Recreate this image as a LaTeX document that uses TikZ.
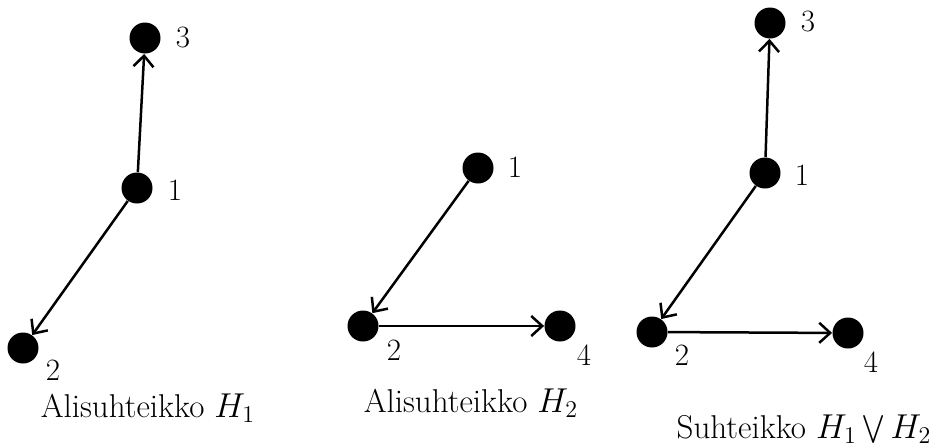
\documentclass[tikz,border=0pt]{standalone}
\usetikzlibrary{arrows.meta}
\begin{document}
\begin{tikzpicture}[x=0.5pt,y=-0.5pt,
  vtx/.style={circle,fill=black,inner sep=0pt,minimum size=15.5pt},
  lbl/.style={font=\fontsize{15.5}{18}\selectfont},
  captext/.style={font=\fontsize{16.5}{20}\selectfont,anchor=base},
  edge/.style={line width=1.25pt,-{Straight Barb[length=5.5pt,width=10pt,line width=1.25pt]}}]
\useasboundingbox (0,0) rectangle (937,445);
% first subgraph H1
\node[vtx] (a3) at (145,38) {};
\node[vtx] (a1) at (137,188) {};
\node[vtx] (a2) at (23,348) {};
\node[lbl] (la3) at (183,38) {3};
\node[lbl] (la1) at (175,190) {1};
\node[lbl] (la2) at (53,370) {2};
\node[captext] (ca) at (148,417) {Alisuhteikko $H_1$};
\draw[edge] (a1) -- (a3);
\draw[edge] (a1) -- (a2);
% second subgraph H2
\node[vtx] (b1) at (478,168) {};
\node[vtx] (b2) at (363,326) {};
\node[vtx] (b4) at (560,326) {};
\node[lbl] (lb1) at (515,167) {1};
\node[lbl] (lb2) at (394,350) {2};
\node[lbl] (lb4) at (584,355) {4};
\node[captext] (cb) at (471,412) {Alisuhteikko $H_2$};
\draw[edge] (b1) -- (b2);
\draw[edge] (b2) -- (b4);
% union H1 v H2
\node[vtx] (c3) at (770,23) {};
\node[vtx] (c1) at (765,173) {};
\node[vtx] (c2) at (652,332) {};
\node[vtx] (c4) at (848,333) {};
\node[lbl] (lc3) at (808,22) {3};
\node[lbl] (lc1) at (802,175) {1};
\node[lbl] (lc2) at (682,355) {2};
\node[lbl] (lc4) at (871,362) {4};
\node[captext] (cc) at (804,438) {Suhteikko $\displaystyle H_1\bigvee H_2$};
\draw[edge] (c1) -- (c3);
\draw[edge] (c1) -- (c2);
\draw[edge] (c2) -- (c4);
\end{tikzpicture}
\end{document}
